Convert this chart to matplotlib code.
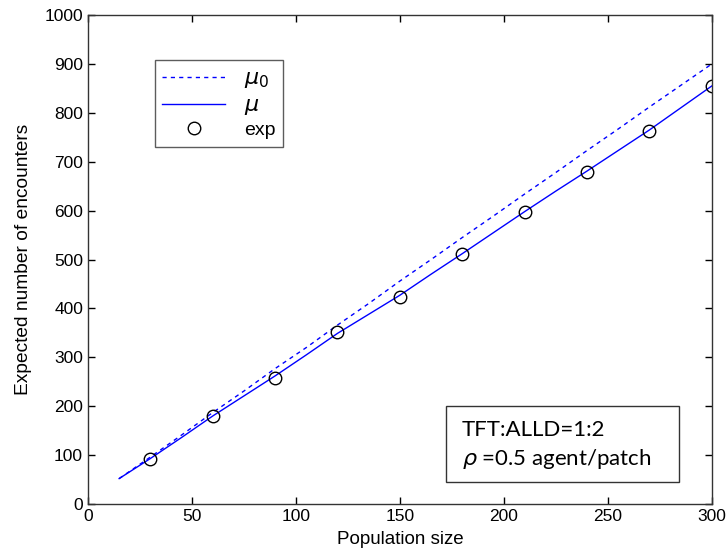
import matplotlib
matplotlib.use("Agg")
import matplotlib.pyplot as plt
from matplotlib.patches import Rectangle

x_line = [15, 30, 45, 60, 75, 90, 105, 120, 135, 150, 165, 180, 195, 210, 225, 240, 255, 270, 285, 300]
mu0 = [52, 96, 141, 187, 231, 277, 320, 366, 410, 456, 500, 545, 589, 634, 678, 723, 767, 812, 856, 900]
mu = [52, 93, 136, 180, 221, 262, 305, 349, 388, 427, 470, 512, 555, 598, 640, 681, 723, 765, 810, 855]
x_exp = [30, 60, 90, 120, 150, 180, 210, 240, 270, 300]
y_exp = [93, 180, 258, 352, 424, 511, 598, 680, 762, 855]

plt.rcParams['font.family'] = ['Liberation Sans', 'DejaVu Sans']
fig = plt.figure(figsize=(7.27, 5.6), dpi=100)
ax = fig.add_axes([0.121, 0.1, 0.858, 0.873])

ax.plot(x_line, mu0, color='#0000ff', linestyle=(0, (3, 3)), linewidth=1.0, label=r'$\mu_0$')
ax.plot(x_line, mu, color='#0000ff', linestyle='-', linewidth=1.0, label=r'$\mu$')
ax.plot(x_exp, y_exp, linestyle='none', marker='o', markersize=9, markerfacecolor='none',
        markeredgecolor='black', markeredgewidth=1.0, label='exp')

ax.set_xlim(0, 300)
ax.set_ylim(0, 1000)
ax.set_xticks(range(0, 301, 50))
ax.set_yticks(range(0, 1001, 100))
ax.tick_params(direction='in', top=True, right=True, labelsize=12.5, length=5, width=1)
for s in ax.spines.values():
    s.set_linewidth(1.0)
    s.set_color('#333333')

ax.set_xlabel('Population size', fontsize=13.5, labelpad=5)
ax.set_ylabel('Expected number of encounters', fontsize=13.8, labelpad=9)

leg = ax.legend(loc='upper left', bbox_to_anchor=(0.107, 0.908), borderaxespad=0, fontsize=14,
                frameon=True, fancybox=False, edgecolor='#333333', handlelength=3.2, borderpad=0.4,
                labelspacing=0.25, handletextpad=1.0)
leg.get_frame().set_linewidth(1.0)
for t in leg.get_texts()[:2]:
    t.set_fontsize(16)

ax.add_patch(Rectangle((0.574, 0.045), 0.373, 0.155, transform=ax.transAxes, facecolor='white',
                       edgecolor='#333333', linewidth=1.0, zorder=5))
ax.text(0.599, 0.152, 'TFT:ALLD=1:2', transform=ax.transAxes, fontsize=16,
        family=['Lato', 'DejaVu Sans'], va='center', ha='left', zorder=6)
ax.text(0.599, 0.093, r'$\rho$' + ' =0.5 agent/patch', transform=ax.transAxes, fontsize=16,
        family=['Lato', 'DejaVu Sans'], va='center', ha='left', zorder=6)

fig.savefig('out.png', dpi=100)
